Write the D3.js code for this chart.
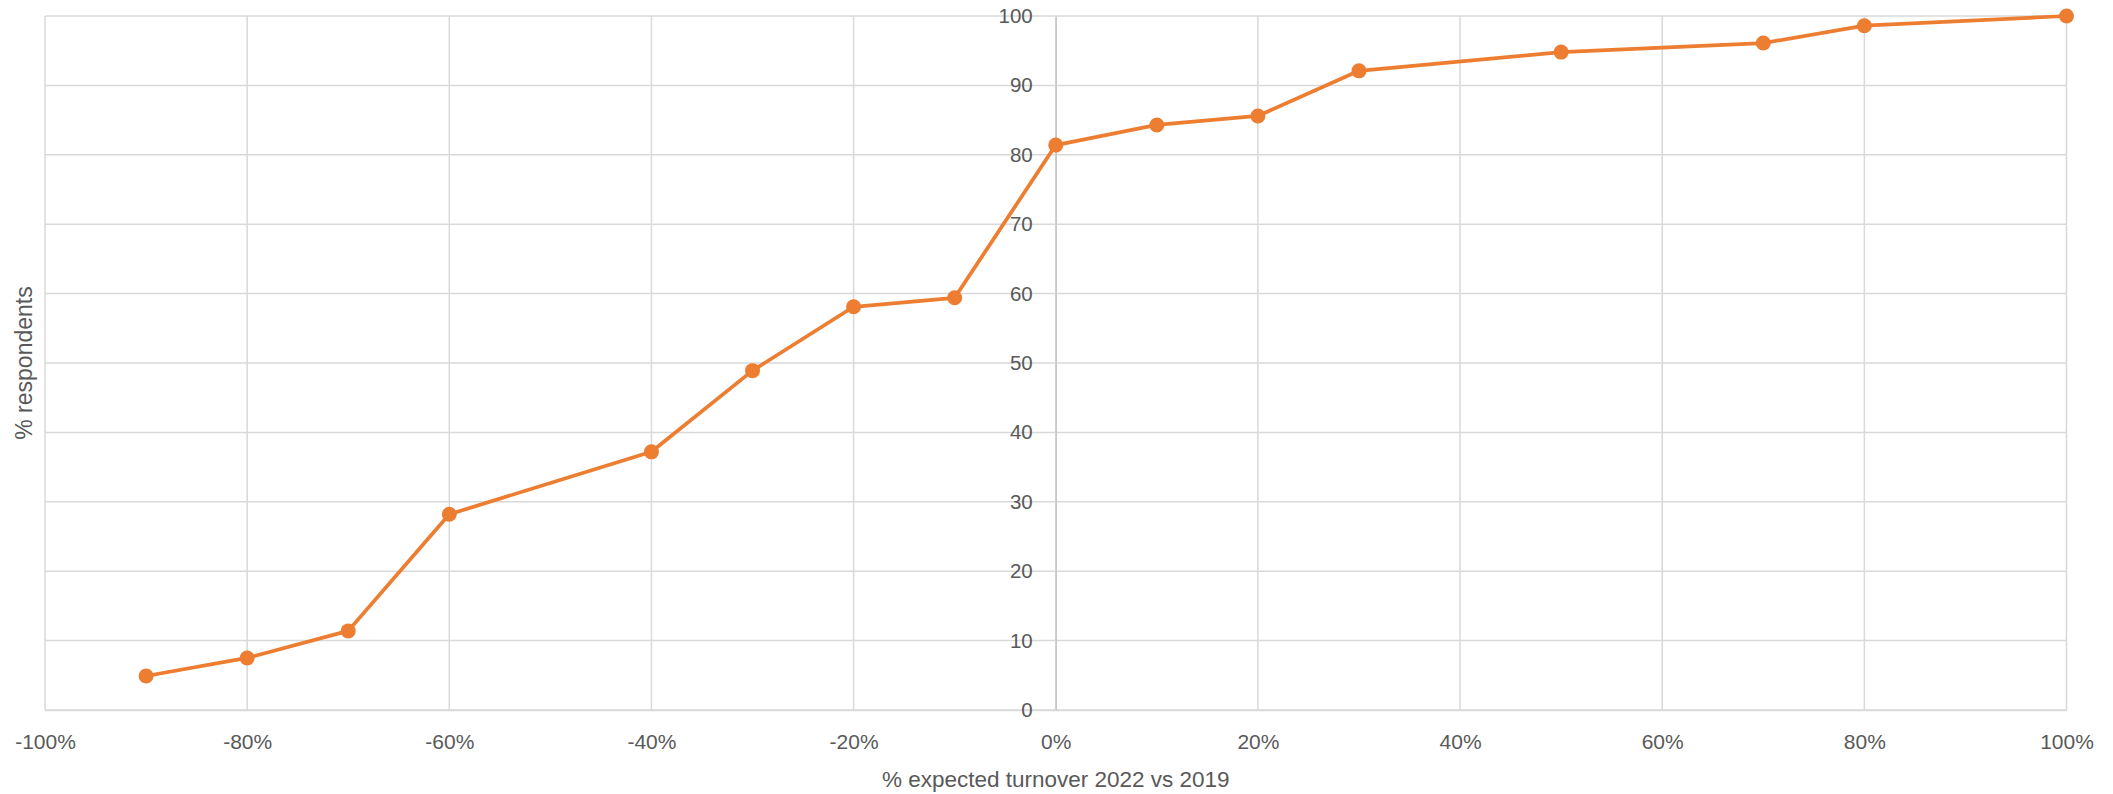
<!DOCTYPE html>
<html><head><meta charset="utf-8">
<script src="https://cdn.jsdelivr.net/npm/d3@7"></script>
<style>body{margin:0;background:#fff;} text{font-family:"Liberation Sans",Arial,sans-serif;}</style>
</head><body>
<svg id="chart" width="2113" height="794"></svg>
<script>
const xValues = [-90, -80, -70, -60, -40, -30, -20, -10, 0, 10, 20, 30, 50, 70, 80, 100];
const yValues = [4.9, 7.5, 11.4, 28.2, 37.2, 48.9, 58.1, 59.4, 81.4, 84.3, 85.6, 92.1, 94.8, 96.1, 98.6, 100];
const xTicks = [-100, -80, -60, -40, -20, 0, 20, 40, 60, 80, 100];
const yTicks = [0, 10, 20, 30, 40, 50, 60, 70, 80, 90, 100];
const xTitle = "% expected turnover 2022 vs 2019";
const yTitle = "% respondents";

const svg = d3.select("#chart");
const L = 45, R = 2066.5, T = 16, B = 710;
const x = d3.scaleLinear().domain([-100, 100]).range([L, R]);
const y = d3.scaleLinear().domain([0, 100]).range([B, T]);
const grid = "#d9d9d9", txt = "#595959";

// vertical gridlines
svg.append("g").selectAll("line").data(xTicks).join("line")
  .attr("x1", d => x(d)).attr("x2", d => x(d)).attr("y1", T).attr("y2", B)
  .attr("stroke", grid).attr("stroke-width", 1.5);
// horizontal gridlines
svg.append("g").selectAll("line").data(yTicks).join("line")
  .attr("x1", L).attr("x2", R).attr("y1", d => y(d)).attr("y2", d => y(d))
  .attr("stroke", grid).attr("stroke-width", 1.5);

// x axis tick labels
const xa = svg.append("g").attr("transform", `translate(0,${B})`)
  .call(d3.axisBottom(x).tickValues(xTicks).tickSize(0).tickPadding(24).tickFormat(d => d + "%"));
xa.select(".domain").attr("stroke", grid).attr("stroke-width", 1.5);
xa.selectAll("text").attr("fill", txt).style("font-size", "21px").style("font-family", "Liberation Sans, Arial, sans-serif");

// y axis at x=0
const ya = svg.append("g").attr("transform", `translate(${x(0)},0)`)
  .call(d3.axisLeft(y).tickValues(yTicks).tickSize(0).tickPadding(23));
ya.select(".domain").attr("stroke", "#c8c8c8").attr("stroke-width", 1.5);
ya.selectAll("text").attr("fill", txt).style("font-size", "20.5px").style("font-family", "Liberation Sans, Arial, sans-serif");

// line
svg.append("path").datum(xValues.map((v, i) => [v, yValues[i]]))
  .attr("fill", "none").attr("stroke", "#ED7D31").attr("stroke-width", 3.75)
  .attr("stroke-linejoin", "round")
  .attr("d", d3.line().x(d => x(d[0])).y(d => y(d[1])));
svg.append("g").selectAll("circle").data(xValues.map((v, i) => [v, yValues[i]])).join("circle")
  .attr("cx", d => x(d[0])).attr("cy", d => y(d[1])).attr("r", 7.5).attr("fill", "#ED7D31");

// titles
svg.append("text").attr("x", x(0)).attr("y", 787).attr("text-anchor", "middle")
  .attr("fill", txt).style("font-size", "22.5px").text(xTitle);
svg.append("text").attr("transform", `translate(32,${(T + B) / 2}) rotate(-90)`).attr("text-anchor", "middle")
  .attr("fill", txt).style("font-size", "23px").text(yTitle);
</script>
</body></html>
